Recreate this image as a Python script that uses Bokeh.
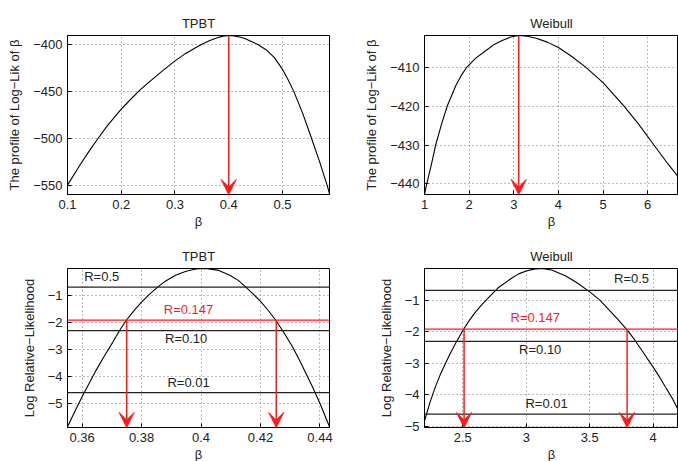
from bokeh.plotting import figure
from bokeh.layouts import column, row
from bokeh.models import Range1d, FixedTicker, Arrow, VeeHead, ColumnDataSource, Span
from bokeh.core.properties import value
from bokeh.embed import file_html
from bokeh.resources import INLINE

FONT = "Liberation Sans"

# ---------------- data ----------------
# profile log-likelihood, TPBT
tpbt_beta = [0.1, 0.125, 0.14, 0.157, 0.175, 0.2, 0.215, 0.234, 0.255, 0.275, 0.3,
             0.32, 0.335, 0.349, 0.365, 0.38, 0.39, 0.4, 0.41, 0.42, 0.43, 0.44,
             0.455, 0.47, 0.485, 0.5, 0.51, 0.521, 0.538, 0.554, 0.569, 0.583, 0.5875]
tpbt_ll = [-550, -527, -514, -500, -486, -469, -460, -449, -438.5, -429, -417.5,
           -409.5, -404.5, -400, -395.7, -392.6, -391.1, -390.4, -390.8, -392.0, -393.6, -396.2,
           -400.3, -405.8, -414, -426.5, -437, -450, -474, -500, -525, -550, -559]
tpbt_hat = 0.4

# profile log-likelihood, Weibull
wb_beta = [1.0, 1.05, 1.15, 1.25, 1.38, 1.51, 1.7, 1.82, 1.95, 2.15, 2.37, 2.55, 2.74,
           2.93, 3.11, 3.3, 3.5, 3.75, 4.0, 4.3, 4.61, 5.0, 5.47, 5.8, 6.14, 6.45, 6.7]
wb_ll = [-442.7, -440, -435.2, -430, -424.7, -420, -414.8, -412.2, -410, -407.7, -405.8,
         -404.3, -403.2, -402.3, -401.9, -402.1, -402.6, -403.6, -405, -407.3, -410,
         -414, -420, -424.7, -430, -434.8, -438.4]
wb_hat = 3.11

# log relative likelihood, TPBT
tpbt_rl_beta = [0.3551, 0.3576, 0.36, 0.3624, 0.3647, 0.3675, 0.3703, 0.3725, 0.3748,
                0.3774, 0.38, 0.3827, 0.3854, 0.388, 0.3916, 0.395, 0.3983, 0.4015,
                0.406, 0.4095, 0.4125, 0.4151, 0.4198, 0.4225, 0.4252, 0.428, 0.4308,
                0.433, 0.4353, 0.4377, 0.44, 0.4432]
tpbt_rl = [-5.87, -5.3, -4.76, -4.26, -3.78, -3.25, -2.74, -2.32, -1.93,
           -1.57, -1.25, -0.95, -0.69, -0.47, -0.24, -0.1, -0.02, 0.0,
           -0.07, -0.24, -0.44, -0.69, -1.19, -1.54, -1.93, -2.4, -2.91,
           -3.38, -3.9, -4.44, -5.01, -5.87]
tpbt_ci = [0.375, 0.4253]

# log relative likelihood, Weibull
wb_rl_beta = [2.2, 2.24, 2.282, 2.32, 2.361, 2.4, 2.44, 2.505, 2.55, 2.598, 2.65, 2.703,
              2.782, 2.887, 2.94, 3.0, 3.06, 3.12, 3.2, 3.308, 3.4, 3.5, 3.58, 3.65,
              3.72, 3.795, 3.855, 3.913, 4.0, 4.05, 4.097, 4.15, 4.2]
wb_rl = [-4.8, -4.25, -3.76, -3.38, -3.02, -2.7, -2.39, -1.93, -1.65, -1.39, -1.14, -0.92,
         -0.6, -0.3, -0.17, -0.08, -0.02, 0.0, -0.05, -0.23, -0.45, -0.74, -1.0, -1.3,
         -1.6, -1.94, -2.26, -2.6, -3.12, -3.43, -3.75, -4.1, -4.49]
wb_ci = [2.51, 3.795]

# cut-off levels: R and log(R)
r_labels = ["R=0.5", "R=0.147", "R=0.10", "R=0.01"]
log_r = [-0.693, -1.917, -2.303, -4.605]

# tick values / labels
tl_xticks = [0.1, 0.2, 0.3, 0.4, 0.5]
tl_xlabels = ["0.1", "0.2", "0.3", "0.4", "0.5"]
tl_yticks = [-550, -500, -450, -400]
tl_ylabels = ["\u2212550", "\u2212500", "\u2212450", "\u2212400"]
tr_xticks = [1, 2, 3, 4, 5, 6]
tr_xlabels = ["1", "2", "3", "4", "5", "6"]
tr_yticks = [-440, -430, -420, -410]
tr_ylabels = ["\u2212440", "\u2212430", "\u2212420", "\u2212410"]
bl_xticks = [0.36, 0.38, 0.4, 0.42, 0.44]
bl_xlabels = ["0.36", "0.38", "0.4", "0.42", "0.44"]
b_yticks = [-5, -4, -3, -2, -1]
b_ylabels = ["\u22125", "\u22124", "\u22123", "\u22122", "\u22121"]
br_xticks = [2.5, 3, 3.5, 4]
br_xlabels = ["2.5", "3", "3.5", "4"]

# ---------------- styling / layout ----------------
RED = "#ff1a1a"
LINE = "#222222"


def make_fig(title, xr, yr, xt, xl, yt, yl, ylabel, left, fw, right, top, fh, bottom):
    p = figure(width=left + fw + right, height=top + fh + bottom,
               frame_width=fw, frame_height=fh,
               x_range=Range1d(*xr), y_range=Range1d(*yr),
               output_backend="svg", toolbar_location=None,
               min_border_left=left, min_border_right=right,
               min_border_top=top, min_border_bottom=bottom,
               title=title)
    p.title.align = "center"
    p.title.text_font = FONT
    p.title.text_font_size = "13px"
    p.title.text_font_style = "normal"
    p.title.text_color = "#222222"
    p.title.standoff = 9
    p.outline_line_color = "black"
    p.outline_line_width = 1
    p.background_fill_color = "white"
    p.border_fill_color = "white"
    p.xaxis.ticker = FixedTicker(ticks=xt)
    p.yaxis.ticker = FixedTicker(ticks=yt)
    p.xaxis.major_label_overrides = {float(k): v for k, v in zip(xt, xl)}
    p.yaxis.major_label_overrides = {float(k): v for k, v in zip(yt, yl)}
    p.xaxis.axis_label = "\u03b2"
    p.yaxis.axis_label = ylabel
    for ax in (p.xaxis[0], p.yaxis[0]):
        ax.major_tick_in = 4
        ax.major_tick_out = 0
        ax.minor_tick_line_color = None
        ax.axis_line_color = "black"
        ax.major_tick_line_color = "black"
        ax.major_label_text_font = FONT
        ax.major_label_text_font_size = "13px"
        ax.major_label_text_color = "#222222"
        ax.axis_label_text_font = FONT
        ax.axis_label_text_font_size = "13px"
        ax.axis_label_text_font_style = "normal"
        ax.axis_label_text_color = "#222222"
    p.xaxis.major_label_standoff = 5
    p.yaxis.major_label_standoff = 5
    p.xaxis.axis_label_standoff = 2
    p.yaxis.axis_label_standoff = 8
    for g in (p.xgrid[0], p.ygrid[0]):
        g.grid_line_color = "#777777"
        g.grid_line_dash = "1 3"
        g.grid_line_width = 1
    p.xgrid.ticker = FixedTicker(ticks=xt)
    p.ygrid.ticker = FixedTicker(ticks=yt)
    return p


def add_arrows(p, xs, y0, y1):
    src = ColumnDataSource(dict(x=xs, y0=[y0] * len(xs), y1=[y1] * len(xs)))
    p.add_layout(Arrow(end=VeeHead(size=15, fill_color=RED, line_color=RED, line_width=1),
                       x_start="x", y_start="y0", x_end="x", y_end="y1", source=src,
                       line_color=RED, line_width=1.5))


def add_levels(p, label_x, label_y):
    colors = [LINE, RED, LINE, LINE]
    for lr, c in zip(log_r, colors):
        p.add_layout(Span(location=lr, dimension="width", line_color=c, line_width=1.2))
    src = ColumnDataSource(dict(x=label_x, y=label_y, t=r_labels, c=colors))
    p.text(x="x", y="y", text="t", text_color="c", source=src,
           text_font=value(FONT), text_font_size="13px",
           text_align="center", text_baseline="middle")


# top-left
TL_X = (0.1, 0.5875)
TL_Y = (-560, -390.4)
p1 = make_fig("TPBT", TL_X, TL_Y, tl_xticks, tl_xlabels, tl_yticks, tl_ylabels,
              "The profile of Log\u2212Lik of \u03b2", 67, 262, 10, 35, 159, 36)
p1.line(tpbt_beta, tpbt_ll, line_color="black", line_width=1.1)
add_arrows(p1, [tpbt_hat], TL_Y[1], TL_Y[0])

# top-right
TR_X = (1.0, 6.69)
TR_Y = (-442.7, -401.9)
p2 = make_fig("Weibull", TR_X, TR_Y, tr_xticks, tr_xlabels, tr_yticks, tr_ylabels,
              "The profile of Log\u2212Lik of \u03b2", 85, 254, 0, 35, 159, 36)
p2.line(wb_beta, wb_ll, line_color="black", line_width=1.1)
add_arrows(p2, [wb_hat], TR_Y[1], TR_Y[0])

# bottom-left
BL_X = (0.3551, 0.4432)
BL_Y = (-5.9, 0.0)
p3 = make_fig("TPBT", BL_X, BL_Y, bl_xticks, bl_xlabels, b_yticks, b_ylabels,
              "Log Relative\u2212Likelihood", 67, 262, 10, 37, 159, 35)
add_levels(p3, [0.3666, 0.3958, 0.395, 0.3958], [-0.30, -1.52, -2.59, -4.23])
p3.line(tpbt_rl_beta, tpbt_rl, line_color="black", line_width=1.1)
add_arrows(p3, tpbt_ci, log_r[1], BL_Y[0])

# bottom-right
BR_X = (2.198, 4.2)
BR_Y = (-5.03, 0.0)
p4 = make_fig("Weibull", BR_X, BR_Y, br_xticks, br_xlabels, b_yticks, b_ylabels,
              "Log Relative\u2212Likelihood", 85, 254, 0, 37, 159, 35)
add_levels(p4, [3.83, 3.071, 3.11, 3.16], [-0.33, -1.54, -2.56, -4.27])
p4.line(wb_rl_beta, wb_rl, line_color="black", line_width=1.1)
add_arrows(p4, wb_ci, log_r[1], BR_Y[0])

layout = column(row(p1, p2), row(p3, p4))
open("out.html", "w").write(file_html(layout, INLINE))
